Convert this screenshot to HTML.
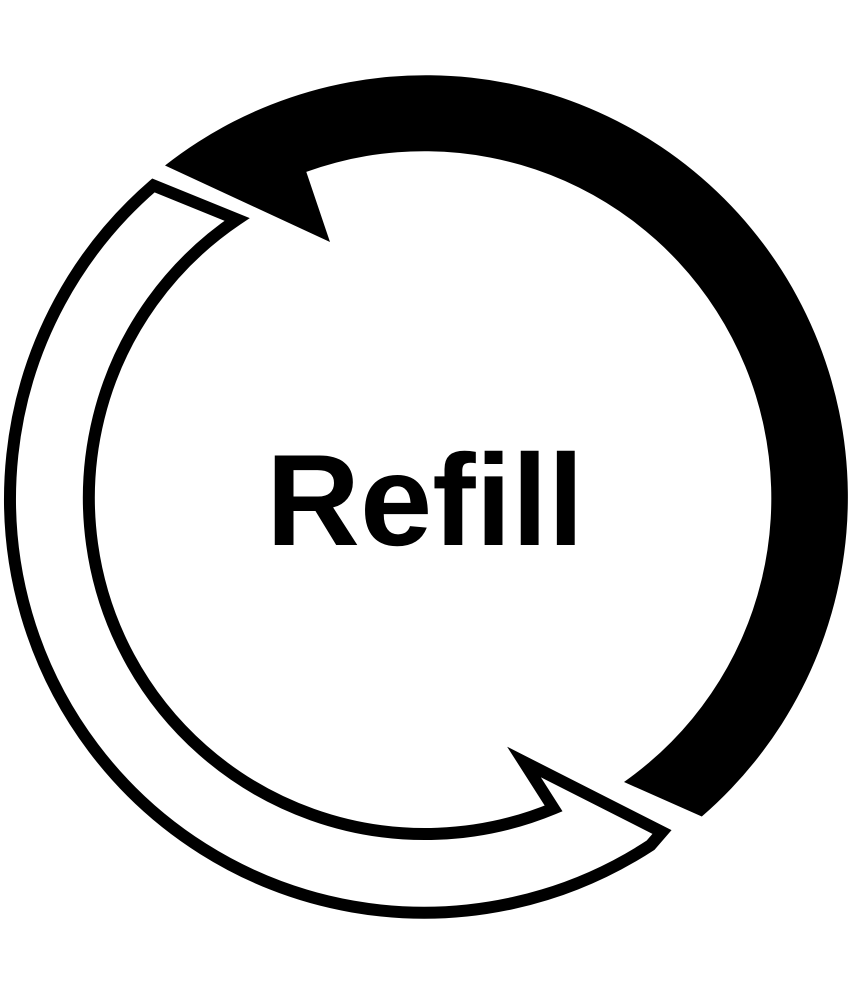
<!DOCTYPE html>
<html><head><meta charset="utf-8"><style>
html,body{margin:0;padding:0;background:#fff;width:850px;height:1000px;overflow:hidden}
</style></head><body>
<svg width="850" height="1000" viewBox="0 0 850 1000" xmlns="http://www.w3.org/2000/svg">
<rect width="850" height="1000" fill="#fff"/>
<path d="M165,165.5 A422,422 0 0 1 701.8,816.5 L624,782 A347,347 0 0 0 306.3,171.9 L330,242 Z" fill="#000"/>
<path d="M153.4,185.4 A414,414 0 0 0 650.6,845.2 L662,832 L524,762 L553.6,808.4 A336,336 0 0 1 237.1,219.4 Z" fill="#fff" stroke="#000" stroke-width="12" stroke-linejoin="miter"/>
<text x="425" y="545" text-anchor="middle" font-family="Liberation Sans, sans-serif" font-weight="bold" font-size="130" fill="#000">Refill</text>
</svg>
</body></html>
